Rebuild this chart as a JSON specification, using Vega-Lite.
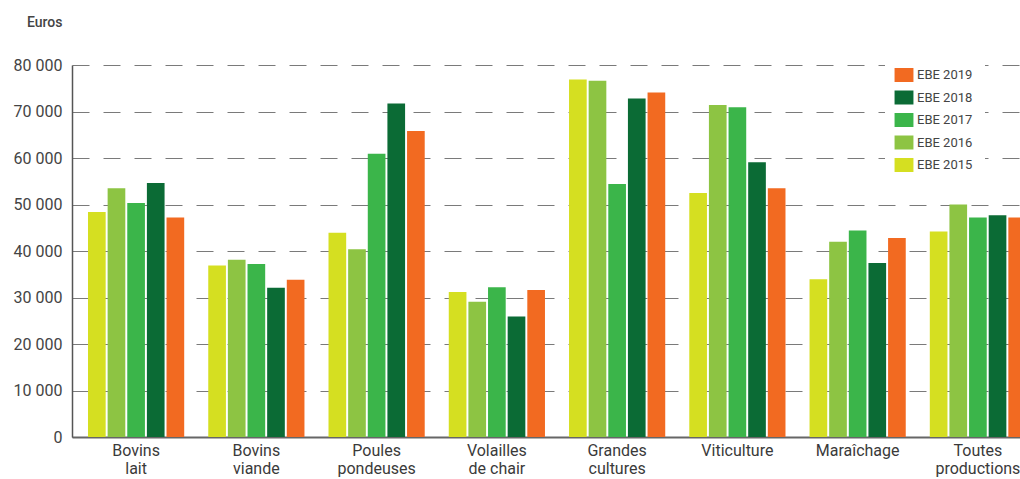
{
  "$schema": "https://vega.github.io/schema/vega-lite/v6.json",
  "autosize": "none",
  "width": 970,
  "height": 372,
  "padding": {"left": 72, "top": 65, "right": 0, "bottom": 42},
  "background": "white",
  "config": {
    "font": "Roboto, sans-serif",
    "view": {"stroke": null}
  },
  "data": {
    "values": [
      {"cat": "Bovins\nlait", "year": "EBE 2015", "value": 48400},
      {"cat": "Bovins\nlait", "year": "EBE 2016", "value": 53500},
      {"cat": "Bovins\nlait", "year": "EBE 2017", "value": 50300},
      {"cat": "Bovins\nlait", "year": "EBE 2018", "value": 54600},
      {"cat": "Bovins\nlait", "year": "EBE 2019", "value": 47200},
      {"cat": "Bovins\nviande", "year": "EBE 2015", "value": 36900},
      {"cat": "Bovins\nviande", "year": "EBE 2016", "value": 38100},
      {"cat": "Bovins\nviande", "year": "EBE 2017", "value": 37200},
      {"cat": "Bovins\nviande", "year": "EBE 2018", "value": 32100},
      {"cat": "Bovins\nviande", "year": "EBE 2019", "value": 33800},
      {"cat": "Poules\npondeuses", "year": "EBE 2015", "value": 43900},
      {"cat": "Poules\npondeuses", "year": "EBE 2016", "value": 40400},
      {"cat": "Poules\npondeuses", "year": "EBE 2017", "value": 60900},
      {"cat": "Poules\npondeuses", "year": "EBE 2018", "value": 71700},
      {"cat": "Poules\npondeuses", "year": "EBE 2019", "value": 65800},
      {"cat": "Volailles\nde chair", "year": "EBE 2015", "value": 31200},
      {"cat": "Volailles\nde chair", "year": "EBE 2016", "value": 29100},
      {"cat": "Volailles\nde chair", "year": "EBE 2017", "value": 32200},
      {"cat": "Volailles\nde chair", "year": "EBE 2018", "value": 25900},
      {"cat": "Volailles\nde chair", "year": "EBE 2019", "value": 31600},
      {"cat": "Grandes\ncultures", "year": "EBE 2015", "value": 76900},
      {"cat": "Grandes\ncultures", "year": "EBE 2016", "value": 76600},
      {"cat": "Grandes\ncultures", "year": "EBE 2017", "value": 54400},
      {"cat": "Grandes\ncultures", "year": "EBE 2018", "value": 72800},
      {"cat": "Grandes\ncultures", "year": "EBE 2019", "value": 74100},
      {"cat": "Viticulture", "year": "EBE 2015", "value": 52500},
      {"cat": "Viticulture", "year": "EBE 2016", "value": 71400},
      {"cat": "Viticulture", "year": "EBE 2017", "value": 70900},
      {"cat": "Viticulture", "year": "EBE 2018", "value": 59100},
      {"cat": "Viticulture", "year": "EBE 2019", "value": 53500},
      {"cat": "Maraîchage", "year": "EBE 2015", "value": 33900},
      {"cat": "Maraîchage", "year": "EBE 2016", "value": 42000},
      {"cat": "Maraîchage", "year": "EBE 2017", "value": 44400},
      {"cat": "Maraîchage", "year": "EBE 2018", "value": 37400},
      {"cat": "Maraîchage", "year": "EBE 2019", "value": 42800},
      {"cat": "Toutes\nproductions", "year": "EBE 2015", "value": 44200},
      {"cat": "Toutes\nproductions", "year": "EBE 2016", "value": 50000},
      {"cat": "Toutes\nproductions", "year": "EBE 2017", "value": 47200},
      {"cat": "Toutes\nproductions", "year": "EBE 2018", "value": 47700},
      {"cat": "Toutes\nproductions", "year": "EBE 2019", "value": 47200}
    ]
  },
  "mark": {"type": "bar"},
  "encoding": {
    "x": {
      "field": "cat",
      "type": "nominal",
      "sort": null,
      "scale": {"paddingInner": 0.2, "paddingOuter": 0.133},
      "axis": {
        "title": null,
        "labelAngle": 0,
        "labelExpr": "split(datum.label, '\\n')",
        "labelFontSize": 16,
        "labelLineHeight": 18,
        "labelColor": "#3a3a3a",
        "labelPadding": 5,
        "labelBaseline": "top",
        "ticks": false,
        "domainColor": "#666666",
        "domainWidth": 2
      }
    },
    "xOffset": {
      "field": "year",
      "type": "nominal",
      "scale": {"domain": ["EBE 2015", "EBE 2016", "EBE 2017", "EBE 2018", "EBE 2019"], "paddingInner": 0.1}
    },
    "y": {
      "field": "value",
      "type": "quantitative",
      "scale": {"domain": [0, 80000], "nice": false},
      "axis": {
        "values": [0, 10000, 20000, 30000, 40000, 50000, 60000, 70000, 80000],
        "labelExpr": "replace(format(datum.value, ','), ',', ' ')",
        "labelFontSize": 16,
        "labelColor": "#444444",
        "labelPadding": 10,
        "ticks": false,
        "domainColor": "#555555",
        "domainWidth": 1.5,
        "grid": true,
        "gridColor": "#7a7a7a",
        "gridDash": [17, 14],
        "gridWidth": 1,
        "title": "Euros",
        "titleAngle": 0,
        "titleAlign": "right",
        "titleBaseline": "middle",
        "titleX": -10,
        "titleY": -43,
        "titleFontSize": 14,
        "titleFontWeight": 500,
        "titleColor": "#444444"
      }
    },
    "color": {
      "field": "year",
      "type": "nominal",
      "scale": {
        "domain": ["EBE 2019", "EBE 2018", "EBE 2017", "EBE 2016", "EBE 2015"],
        "range": ["#f26a21", "#0b6b35", "#3bb54a", "#8dc443", "#d5df21"]
      },
      "legend": {
        "title": null,
        "orient": "none",
        "legendX": 813,
        "legendY": -9,
        "padding": 12,
        "fillColor": "white",
        "symbolType": "M-1.35,-1H1.35V1H-1.35Z",
        "symbolSize": 196,
        "symbolStrokeWidth": 0,
        "symbolOpacity": 1,
        "labelFontSize": 13,
        "labelColor": "#444444",
        "labelOffset": 6,
        "rowPadding": 8.5
      }
    }
  }
}
